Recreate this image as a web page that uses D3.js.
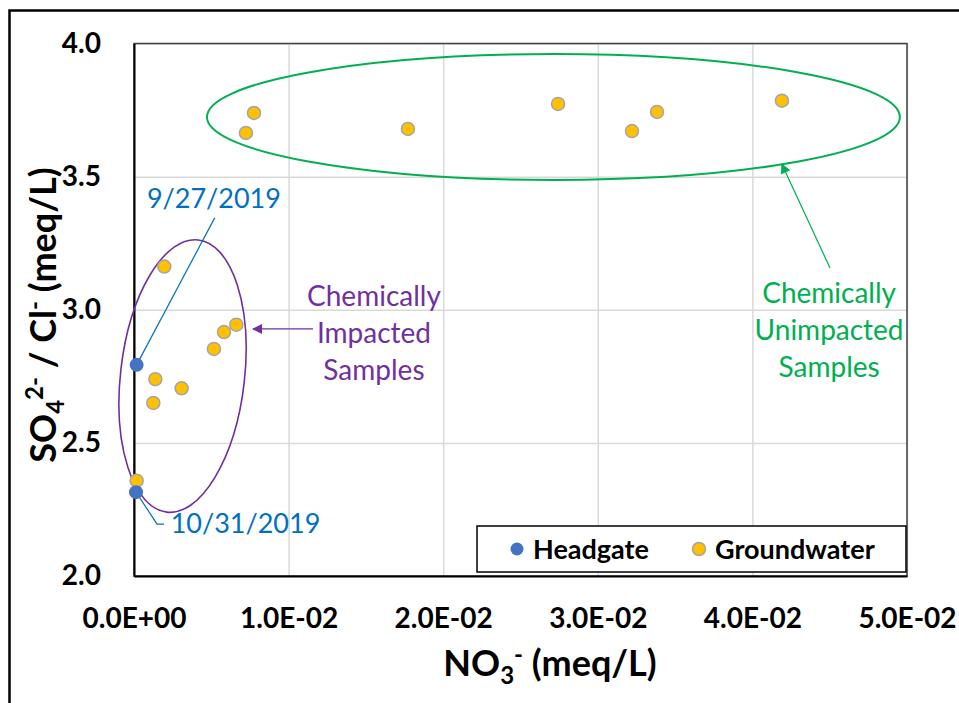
<!DOCTYPE html>
<html>
<head>
<meta charset="utf-8">
<script src="https://cdn.jsdelivr.net/npm/d3@7"></script>
<style>
  body { margin: 0; background: #fff; }
  svg { display: block; font-family: Lato, "Open Sans", sans-serif; }
</style>
</head>
<body>
<div id="chart"></div>
<script>
// NO3- (meq/L) vs SO4 2- / Cl- ratio
const headgateNO3 = [0.00017, 0.00013];
const headgateRatio = [2.793, 2.315];

const groundNO3 = [0.00724, 0.00776, 0.01772, 0.02743, 0.03221, 0.03383, 0.04191,
  0.00196, 0.00662, 0.00582, 0.00517, 0.00138, 0.00308, 0.00125, 0.00017];
const groundRatio = [3.664, 3.739, 3.679, 3.773, 3.671, 3.743, 3.785,
  3.162, 2.944, 2.916, 2.853, 2.739, 2.705, 2.650, 2.358];

const xTicks = [0, 0.01, 0.02, 0.03, 0.04, 0.05];
const xTickLabels = ['0.0E+00', '1.0E-02', '2.0E-02', '3.0E-02', '4.0E-02', '5.0E-02'];
const yTicks = [2.0, 2.5, 3.0, 3.5, 4.0];
const yTickLabels = ['2.0', '2.5', '3.0', '3.5', '4.0'];

const seriesNames = ['Headgate', 'Groundwater'];
const dateLabels = ['9/27/2019', '10/31/2019'];
const impactedText = ['Chemically', 'Impacted', 'Samples'];
const unimpactedText = ['Chemically', 'Unimpacted', 'Samples'];

const W = 959, H = 703;
const margin = { top: 43.5, right: 52, bottom: 127, left: 134 };
const width = W - margin.left - margin.right;
const height = H - margin.top - margin.bottom;

const root = d3.select('#chart')
  .append('svg')
  .attr('width', W)
  .attr('height', H);

// outer frame (runs off the right / bottom edge)
root.append('rect')
  .attr('x', 9.5).attr('y', 10.5)
  .attr('width', 1000).attr('height', 800)
  .attr('fill', 'none')
  .attr('stroke', '#000')
  .attr('stroke-width', 2.5);

const svg = root.append('g')
  .attr('transform', `translate(${margin.left}, ${margin.top})`);

const x = d3.scaleLinear().domain([0, 0.05]).range([0, width]);
const y = d3.scaleLinear().domain([2, 4]).range([height, 0]);

// grid
svg.append('g')
  .attr('class', 'grid')
  .call(d3.axisLeft(y).tickValues(yTicks).tickFormat('').tickSize(-width))
  .call(g => g.select('.domain').remove())
  .call(g => g.selectAll('line').attr('stroke', '#d9d9d9').attr('stroke-width', 1.5));

svg.append('g')
  .attr('class', 'grid')
  .attr('transform', `translate(0, ${height})`)
  .call(d3.axisBottom(x).tickValues(xTicks).tickFormat('').tickSize(-height))
  .call(g => g.select('.domain').remove())
  .call(g => g.selectAll('line').attr('stroke', '#d9d9d9').attr('stroke-width', 1.5));

// plot border
svg.append('rect')
  .attr('width', width).attr('height', height)
  .attr('fill', 'none')
  .attr('stroke', '#404040')
  .attr('stroke-width', 1.5);

// axes
svg.append('g')
  .call(d3.axisLeft(y).tickValues(yTicks).tickSize(0).tickPadding(33)
    .tickFormat((d, i) => yTickLabels[i]))
  .call(g => g.select('.domain').attr('stroke', '#000').attr('stroke-width', 2))
  .call(g => g.selectAll('text')
    .attr('font-size', 28).attr('font-weight', 'bold').attr('fill', '#000')
    .attr('font-family', 'Lato'));

svg.append('g')
  .attr('transform', `translate(0, ${height})`)
  .call(d3.axisBottom(x).tickValues(xTicks).tickSize(0).tickPadding(32)
    .tickFormat((d, i) => xTickLabels[i]))
  .call(g => g.select('.domain').attr('stroke', '#000').attr('stroke-width', 2))
  .call(g => g.selectAll('text')
    .attr('font-size', 28).attr('font-weight', 'bold').attr('fill', '#000')
    .attr('font-family', 'Lato'));

// axis titles
const xTitle = root.append('text')
  .attr('x', 550).attr('y', 676)
  .attr('text-anchor', 'middle')
  .attr('font-size', 36).attr('font-weight', 'bold');
xTitle.append('tspan').text('NO');
xTitle.append('tspan').attr('font-size', 24).attr('dy', 8).text('3');
xTitle.append('tspan').attr('font-size', 24).attr('dy', -21).text('-');
xTitle.append('tspan').attr('dy', 13).text(' (meq/L)');

const yTitle = root.append('text')
  .attr('transform', 'translate(56, 315) rotate(-90)')
  .attr('text-anchor', 'middle')
  .attr('font-size', 36).attr('font-weight', 'bold');
yTitle.append('tspan').text('SO');
yTitle.append('tspan').attr('font-size', 24).attr('dy', 8).text('4');
yTitle.append('tspan').attr('font-size', 24).attr('dy', -21).text('2-');
yTitle.append('tspan').attr('dy', 13).text(' / Cl');
yTitle.append('tspan').attr('font-size', 24).attr('dy', -13).text('-');
yTitle.append('tspan').attr('dy', 13).text(' (meq/L)');

// annotation shapes (in data units)
const unimpactedEllipse = { cx: 0.02713, cy: 3.724, rx: 0.02241, ry: 0.2366 };
const impactedEllipse = { cx: 0.00314, cy: 2.751, rx: 0.00401, ry: 0.5146, angle: 6.6 };

svg.append('ellipse')
  .attr('cx', x(unimpactedEllipse.cx)).attr('cy', y(unimpactedEllipse.cy))
  .attr('rx', x(unimpactedEllipse.rx) - x(0))
  .attr('ry', y(2) - y(2 + unimpactedEllipse.ry))
  .attr('fill', 'none').attr('stroke', '#00b050').attr('stroke-width', 2);

svg.append('ellipse')
  .attr('transform', `translate(${x(impactedEllipse.cx)}, ${y(impactedEllipse.cy)}) rotate(${impactedEllipse.angle})`)
  .attr('rx', x(impactedEllipse.rx) - x(0))
  .attr('ry', y(2) - y(2 + impactedEllipse.ry))
  .attr('fill', 'none').attr('stroke', '#7030a0').attr('stroke-width', 1.6);

// arrowheads
const defs = root.append('defs');
[['arrowPurple', '#7030a0'], ['arrowGreen', '#00b050']].forEach(([id, c]) => {
  defs.append('marker')
    .attr('id', id)
    .attr('viewBox', '0 0 10 10')
    .attr('refX', 9).attr('refY', 5)
    .attr('markerWidth', 12).attr('markerHeight', 10)
    .attr('markerUnits', 'userSpaceOnUse')
    .attr('orient', 'auto')
    .append('path')
    .attr('d', 'M0,0 L10,5 L0,10 Z')
    .attr('fill', c);
});

svg.append('line')
  .attr('x1', x(0.01158)).attr('y1', y(2.928))
  .attr('x2', x(0.0077)).attr('y2', y(2.928))
  .attr('stroke', '#7030a0').attr('stroke-width', 1.2)
  .attr('marker-end', 'url(#arrowPurple)');

svg.append('line')
  .attr('x1', x(0.04502)).attr('y1', y(3.157))
  .attr('x2', x(0.0419)).attr('y2', y(3.547))
  .attr('stroke', '#00b050').attr('stroke-width', 1.2)
  .attr('marker-end', 'url(#arrowGreen)');

// annotation text
svg.append('text')
  .attr('x', x(0.01552)).attr('y', y(3.014))
  .attr('text-anchor', 'middle')
  .attr('font-size', 28).attr('fill', '#7030a0')
  .selectAll('tspan').data(impactedText).join('tspan')
  .attr('x', x(0.01552)).attr('dy', (d, i) => i ? 37 : 0)
  .text(d => d);

svg.append('text')
  .attr('x', x(0.04496)).attr('y', y(3.025))
  .attr('text-anchor', 'middle')
  .attr('font-size', 28).attr('fill', '#00b050')
  .selectAll('tspan').data(unimpactedText).join('tspan')
  .attr('x', x(0.04496)).attr('dy', (d, i) => i ? 37 : 0)
  .text(d => d);

// date leaders
const blue = '#0070c0';
svg.append('line')
  .attr('x1', x(0.00522)).attr('y1', y(3.345))
  .attr('x2', x(headgateNO3[0])).attr('y2', y(headgateRatio[0]))
  .attr('stroke', blue).attr('stroke-width', 1.2);

svg.append('polyline')
  .attr('points', [[headgateNO3[1], headgateRatio[1]], [0.00149, 2.195], [0.00194, 2.195]]
    .map(p => [x(p[0]), y(p[1])].join(',')).join(' '))
  .attr('fill', 'none').attr('stroke', blue).attr('stroke-width', 1.2);

svg.append('text')
  .attr('x', x(0.00517)).attr('y', y(3.382))
  .attr('text-anchor', 'middle')
  .attr('font-size', 27).attr('fill', blue)
  .text(dateLabels[0]);

svg.append('text')
  .attr('x', x(0.00237)).attr('y', y(2.161))
  .attr('font-size', 27).attr('fill', blue)
  .text(dateLabels[1]);

// points
const headgate = headgateNO3.map((v, i) => ({ x: v, y: headgateRatio[i] }));
const ground = groundNO3.map((v, i) => ({ x: v, y: groundRatio[i] }));

svg.append('g').selectAll('circle').data(ground).join('circle')
  .attr('cx', d => x(d.x)).attr('cy', d => y(d.y)).attr('r', 6.5)
  .attr('fill', '#ffc000').attr('stroke', '#a5a5a5').attr('stroke-width', 1.5);

svg.append('g').selectAll('circle').data(headgate).join('circle')
  .attr('cx', d => x(d.x)).attr('cy', d => y(d.y)).attr('r', 7)
  .attr('fill', '#4472c4');

// legend
const legend = root.append('g').attr('transform', 'translate(477, 526)');
legend.append('rect')
  .attr('width', 429).attr('height', 46)
  .attr('fill', '#fff').attr('stroke', '#000').attr('stroke-width', 1.5);

const legendX = [40, 222];
const legendItem = legend.selectAll('g.item').data(seriesNames).join('g')
  .attr('class', 'item')
  .attr('transform', (d, i) => `translate(${legendX[i]}, 23)`);

legendItem.append('circle')
  .attr('r', 6.5)
  .attr('fill', (d, i) => i ? '#ffc000' : '#4472c4')
  .attr('stroke', (d, i) => i ? '#a5a5a5' : 'none')
  .attr('stroke-width', 1.5);

legendItem.append('text')
  .attr('x', 16).attr('y', 10)
  .attr('font-size', 27).attr('font-weight', 'bold')
  .text(d => d);
</script>
</body>
</html>
